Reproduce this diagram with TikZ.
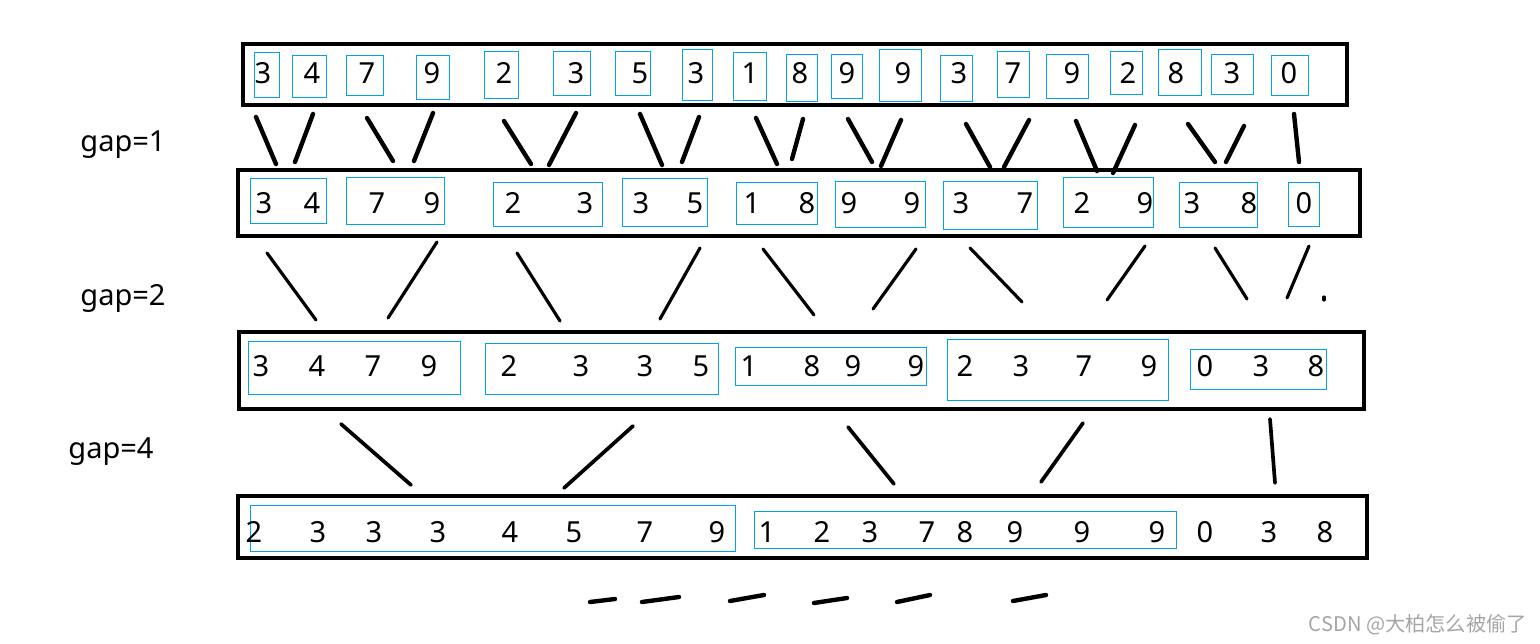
\documentclass[tikz,border=0pt]{standalone}
\usepackage{fontspec}
\setmainfont{Noto Sans}
\newfontfamily\cjkfont{Noto Sans CJK SC}
\usepackage{tikz}

\definecolor{paintblue}{RGB}{0,162,232}
\definecolor{markgray}{RGB}{165,165,165}

\tikzset{
  digit/.style={inner sep=0pt, font=\fontsize{16.5}{20}\selectfont},
  gaplabel/.style={inner sep=0pt, font=\fontsize{16.5}{20}\selectfont},
  rowbox/.style={line width=2.5pt},
  cellbox/.style={draw=paintblue, line width=0.45pt},
  stroke/.style={line width=2.5pt, line cap=round},
  thinstroke/.style={line width=1.8pt, line cap=round},
  midstroke/.style={line width=2.1pt, line cap=round},
}

\begin{document}
\begin{tikzpicture}[x=0.02cm, y=-0.02cm]
  \useasboundingbox (0,0) rectangle (1540,644);

  % rows
  \draw[rowbox] (243,44) rectangle (1347,105);
  \draw[rowbox] (238,170) rectangle (1360,236);
  \draw[rowbox] (239,332) rectangle (1364,409);
  \draw[rowbox] (238,496) rectangle (1367,558);

  % gap = 1 : single cells
  \foreach \xa/\ya/\xb/\yb in {254/52/279/97, 292/55/326/97, 346/55/383/95, 416/55/449/99,
      484/51/518/98, 553/51/590/95, 615/51/650/95, 682/49/712/100, 733/52/766/100,
      786/54/817/101, 831/54/862/98, 879/49/921/101, 940/55/972/101, 997/51/1029/97,
      1046/54/1088/98, 1110/51/1142/94, 1158/49/1201/95, 1211/54/1253/94, 1271/55/1308/95}
    \draw[cellbox] (\xa,\ya) rectangle (\xb,\yb);
  \foreach \x/\d [count=\i] in {263/3, 312/4, 367/7, 432/9, 504/2, 576/3, 640/5, 696/3,
      750/1, 800/8, 847/9, 903/9, 959/3, 1013/7, 1072/9, 1128/2, 1176/8, 1232/3, 1289/0}
    \node[digit] (a\i) at (\x,73) {\d};

  % gap = 2 : pairs
  \foreach \xa/\ya/\xb/\yb in {250/178/326/223, 346/177/444/224, 493/182/602/226,
      622/178/707/226, 736/182/817/224, 835/181/925/227, 943/181/1037/229,
      1063/177/1153/227, 1179/182/1257/227, 1288/182/1319/226}
    \draw[cellbox] (\xa,\ya) rectangle (\xb,\yb);
  \foreach \x/\d [count=\i] in {264/3, 312/4, 377/7, 432/9, 513/2, 585/3, 641/3, 695/5,
      752/1, 807/8, 849/9, 912/9, 961/3, 1025/7, 1082/2, 1145/9, 1192/3, 1249/8, 1304/0}
    \node[digit] (b\i) at (\x,203) {\d};

  % gap = 4 : groups of four
  \foreach \xa/\ya/\xb/\yb in {248/341/460/394, 485/343/718/394, 735/347/926/385,
      947/339/1168/400, 1190/349/1326/389}
    \draw[cellbox] (\xa,\ya) rectangle (\xb,\yb);
  \foreach \x/\d [count=\i] in {261/3, 317/4, 373/7, 429/9, 509/2, 581/3, 645/3, 701/5,
      749/1, 812/8, 853/9, 916/9, 965/2, 1021/3, 1084/7, 1149/9, 1205/0, 1261/3, 1316/8}
    \node[digit] (c\i) at (\x,366) {\d};

  % last row
  \draw[cellbox] (250,505) rectangle (735,551);
  \draw[cellbox] (754,511) rectangle (1176,548);
  \foreach \x/\d [count=\i] in {254/2, 318/3, 374/3, 438/3, 510/4, 574/5, 645/7, 717/9,
      767/1, 822/2, 870/3, 927/7, 965/8, 1015/9, 1082/9, 1157/9, 1205/0, 1269/3, 1325/8}
    \node[digit] (d\i) at (\x,532) {\d};

  \node[gaplabel] (gapone) at (123,145) {gap=1};
  \node[gaplabel] (gaptwo) at (123,298) {gap=2};
  \node[gaplabel] (gapfour) at (111,452) {gap=4};

  % merge strokes
  \foreach \xa/\ya/\xb/\yb in {256/117/276/164, 313/114/295/162, 367/118/393/161,
      433/113/414/161, 504/121/531/164, 576/113/549/165, 640/114/662/165, 699/117/682/162,
      756/118/777/164, 803/119/792/159, 848/119/872/162, 901/120/881/166, 966/124/990/167,
      1029/120/1004/167, 1076/121/1097/171, 1135/125/1113/173, 1188/124/1215/162,
      1244/126/1226/162, 1294/114/1299/162}
    \draw[stroke] (\xa,\ya) -- (\xb,\yb);
  \foreach \xa/\ya/\xb/\yb in {267/253/316/320, 437/242/388/318, 517/253/560/321,
      700/248/660/319, 763/249/814/315, 916/249/873/309, 970/248/1022/302,
      1145/246/1107/300, 1215/248/1247/299, 1309/246/1287/298, 1324/297/1324/300}
    \draw[thinstroke] (\xa,\ya) -- (\xb,\yb);
  \foreach \xa/\ya/\xb/\yb in {341/424/411/485, 633/426/564/488, 848/427/894/484,
      1083/423/1041/482, 1270/419/1275/483}
    \draw[midstroke] (\xa,\ya) -- (\xb,\yb);

  % dashes under the result
  \foreach \xa/\ya/\xb/\yb in {590/602/615/599, 642/602/679/597, 730/601/764/595,
      814/603/847/598, 897/602/930/595, 1013/601/1046/595}
    \draw[stroke] (\xa,\ya) -- (\xb,\yb);

  \node[anchor=east, inner sep=0pt, text=markgray, font=\cjkfont\fontsize{11.5}{14}\selectfont]
    (mark) at (1527,625) {CSDN @大柏怎么被偷了};
\end{tikzpicture}
\end{document}
